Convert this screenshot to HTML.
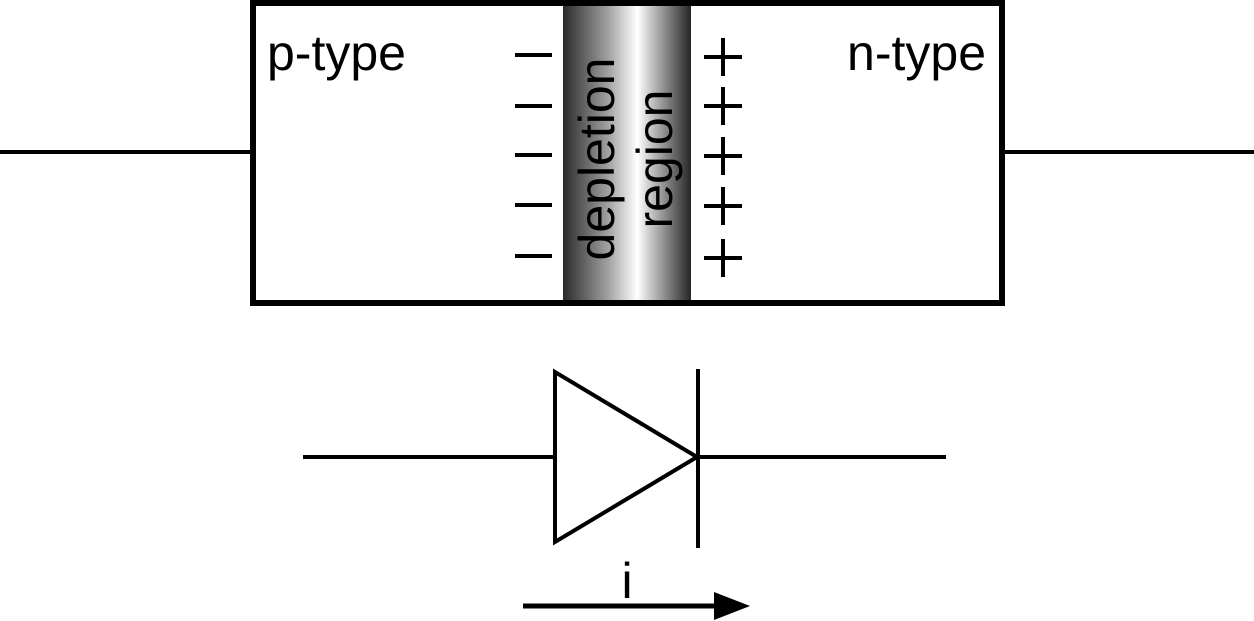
<!DOCTYPE html>
<html><head><meta charset="utf-8"><style>html,body{margin:0;padding:0;background:#fff}svg{display:block}</style></head>
<body>
<svg width="1254" height="621" viewBox="0 0 1254 621" font-family="Liberation Sans, Arial, sans-serif">
<defs>
<linearGradient id="dep" x1="0" x2="1" y1="0" y2="0">
<stop offset="0" stop-color="#2a2a2a"/>
<stop offset="0.35" stop-color="#a0a0a0"/>
<stop offset="0.58" stop-color="#ffffff"/>
<stop offset="0.8" stop-color="#8a8a8a"/>
<stop offset="1" stop-color="#262626"/>
</linearGradient>
</defs>
<line x1="0" y1="152" x2="252" y2="152" stroke="#000" stroke-width="4"/>
<line x1="1003" y1="152" x2="1254" y2="152" stroke="#000" stroke-width="4"/>
<rect x="563" y="3" width="128" height="300" fill="url(#dep)"/>
<rect x="253" y="3" width="749" height="300" fill="none" stroke="#000" stroke-width="6"/>
<text x="267" y="70" font-size="50">p-type</text>
<text x="986" y="70" font-size="50" text-anchor="end">n-type</text>
<g stroke="#000" stroke-width="4">
<line x1="515" x2="552" y1="55" y2="55"/><line x1="515" x2="552" y1="106" y2="106"/><line x1="515" x2="552" y1="155" y2="155"/><line x1="515" x2="552" y1="205" y2="205"/><line x1="515" x2="552" y1="256" y2="256"/>
</g>
<g stroke="#000" stroke-width="4">
<line x1="704" x2="742" y1="57" y2="57"/><line x1="723" x2="723" y1="38" y2="76"/>
<line x1="704" x2="742" y1="106" y2="106"/><line x1="723" x2="723" y1="87" y2="125"/>
<line x1="704" x2="742" y1="156" y2="156"/><line x1="723" x2="723" y1="137" y2="175"/>
<line x1="704" x2="742" y1="206" y2="206"/><line x1="723" x2="723" y1="187" y2="225"/>
<line x1="704" x2="742" y1="258" y2="258"/><line x1="723" x2="723" y1="239" y2="277"/>
</g>
<text transform="translate(614,159) rotate(-90)" font-size="50" text-anchor="middle">depletion</text>
<text transform="translate(672,159) rotate(-90)" font-size="50" text-anchor="middle">region</text>
<g stroke="#000" stroke-width="4" fill="none">
<line x1="303" y1="457" x2="555" y2="457"/>
<polygon points="555,372 555,542 697,457"/>
<line x1="698" y1="369" x2="698" y2="548"/>
<line x1="697" y1="457" x2="946" y2="457"/>
</g>
<g>
<line x1="523" y1="606" x2="718" y2="606" stroke="#000" stroke-width="5"/>
<polygon points="714,592 750,606 714,620" fill="#000"/>
</g>
<text x="627" y="598" font-size="50" text-anchor="middle">i</text>
</svg>
</body></html>
